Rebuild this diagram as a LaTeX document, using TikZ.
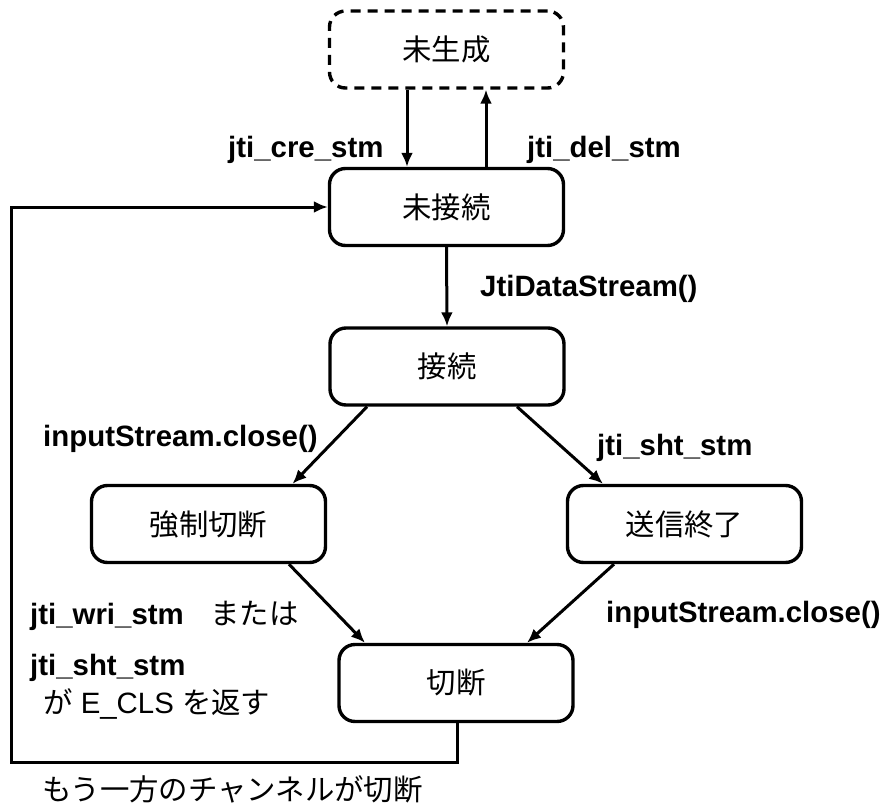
\documentclass[tikz,border=0pt]{standalone}
\usepackage{fontspec}
\setmainfont{Liberation Sans}
\newfontfamily\jp{Noto Sans CJK JP}
\usetikzlibrary{arrows.meta}
\newcommand{\lblsize}{\fontsize{29.4}{35}\selectfont}
\begin{document}
\begin{tikzpicture}[x=1pt,y=-1pt,
  statebox/.style={draw, line width=3.4pt, rounded corners=16pt,
    minimum width=234pt, minimum height=77pt, inner sep=0pt,
    font=\jp\lblsize},
  ghostbox/.style={statebox, dash pattern=on 10pt off 7pt},
  arr/.style={line width=3pt, -{Latex[length=14pt,width=12pt]}},
  lbl/.style={anchor=base west, inner sep=0pt, font=\bfseries\lblsize},
  plainlbl/.style={anchor=base west, inner sep=0pt, font=\lblsize}]
\useasboundingbox (0,0) rectangle (887,809);

% states
\node[ghostbox] (gen) at (446.5,49.5) {未生成};
\node[statebox] (mis) at (446.5,207) {未接続};
\node[statebox] (con) at (447,366.5) {接続};
\node[statebox] (kyo) at (208.5,524) {強制切断};
\node[statebox] (sou) at (684.5,524) {送信終了};
\node[statebox] (cut) at (456,683) {切断};

% transitions
\draw[arr] ([xshift=-39.5pt]gen.south) -- ([xshift=-39.5pt]mis.north);
\draw[arr] ([xshift=39.5pt]mis.north) -- ([xshift=39.5pt]gen.south);
\draw[arr] (mis.south) -- (con.north);
\draw[arr] ([xshift=-80pt]con.south) -- ([xshift=84pt]kyo.north);
\draw[arr] ([xshift=70pt]con.south) -- ([xshift=-81.5pt]sou.north);
\draw[arr] ([xshift=80.5pt]kyo.south) -- ([xshift=-91pt]cut.north);
\draw[arr] ([xshift=-70.5pt]sou.south) -- ([xshift=71pt]cut.north);

% loop back to the unconnected state
\coordinate (loopcorner) at (11.7,762);
\draw[arr] ([xshift=1pt]cut.south) |- (loopcorner) |- (mis.west);

% labels
\node[lbl] (lcre) at (228,157) {jti\_cre\_stm};
\node[lbl] (ldel) at (527,157) {jti\_del\_stm};
\node[lbl] (lds) at (480,296) {JtiDataStream()};
\node[lbl] (lic1) at (43,446) {inputStream.close()};
\node[lbl] (lsht1) at (597,455) {jti\_sht\_stm};
\node[lbl] (lic2) at (606,622) {inputStream.close()};
\node[lbl] (lwri) at (30,624) {jti\_wri\_stm\hspace{0.9em}{\jp\mdseries または}};
\node[lbl] (lsht2) at (30,675) {jti\_sht\_stm};
\node[plainlbl] (lecls) at (43,713) {{\jp が} E\_CLS {\jp を返す}};
\node[plainlbl] (lother) at (42,800) {\jp もう一方のチャンネルが切断};
\end{tikzpicture}
\end{document}
